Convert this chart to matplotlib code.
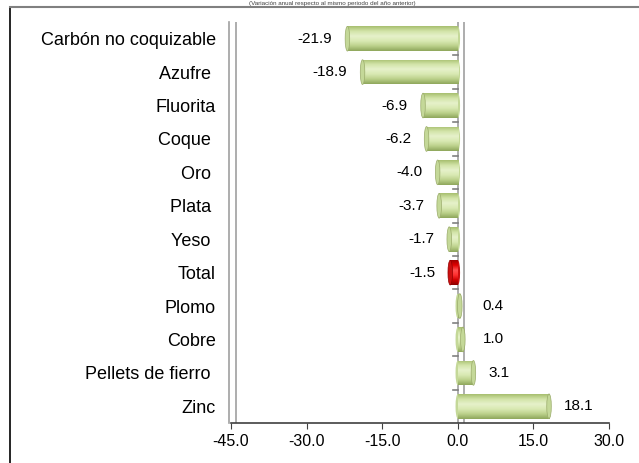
import numpy as np
import matplotlib
matplotlib.use("Agg")
import matplotlib.pyplot as plt
from matplotlib.colors import LinearSegmentedColormap
from matplotlib.patches import Ellipse

plt.rcParams['font.family'] = ['Liberation Sans', 'DejaVu Sans']

categories = ["Carbón no coquizable", "Azufre ", "Fluorita", "Coque ", "Oro ", "Plata ",
              "Yeso ", "Total", "Plomo", "Cobre", "Pellets de fierro ", "Zinc"]
values = [-21.9, -18.9, -6.9, -6.2, -4.0, -3.7, -1.7, -1.5, 0.4, 1.0, 3.1, 18.1]
highlight = "Total"
xticks = [-45.0, -30.0, -15.0, 0.0, 15.0, 30.0]
title = "(Variación anual respecto al mismo periodo del año anterior)"

W, H = 639, 463
fig = plt.figure(figsize=(W / 100, H / 100), dpi=100)
ax = fig.add_axes([231 / W, 1 - 423 / H, (609 - 231) / W, (423 - 22) / H])

green = LinearSegmentedColormap.from_list("g", ["#8fa75c", "#bcd18b", "#d9e9b3", "#e6f1ca", "#d2e4a8", "#a8bf70"])
red = LinearSegmentedColormap.from_list("r", ["#8a0000", "#d00000", "#ff3030", "#ff5050", "#e00000", "#a00000"])

n = len(categories)
ypos = np.arange(n)[::-1]
bh = 0.74
grad = np.linspace(0, 1, 64).reshape(-1, 1)

ax.set_xlim(-45, 30)
ax.set_ylim(-0.5, n - 0.5)

for y, v, c in zip(ypos, values, categories):
    cmap = red if c == highlight else green
    bars = ax.barh(y, v, height=bh, color="none", edgecolor="none", zorder=3)
    patch = bars[0]
    im = ax.imshow(grad, cmap=cmap, aspect="auto",
                   extent=[min(0, v), max(0, v), y + bh / 2, y - bh / 2],
                   zorder=3, interpolation="bilinear")
    im.set_clip_path(patch)
    endc = "#c4d898" if c != highlight else "#cc1010"
    ax.add_patch(Ellipse((v, y), width=0.9, height=bh, facecolor=endc,
                         edgecolor="#9aab6a" if c != highlight else "#900000",
                         linewidth=0.5, zorder=4))
    ax.add_patch(Ellipse((0, y), width=0.9, height=bh, facecolor=endc,
                         edgecolor="none", zorder=2.9))
    if v < 0:
        ax.text(v - 3.0, y, f"{v:.1f}", ha="right", va="center", fontsize=11, color="black", zorder=5)
    else:
        ax.text(max(v + 3.0, 4.9), y, f"{v:.1f}", ha="left", va="center", fontsize=11, color="black", zorder=5)

# back walls
ax.axvline(0, color="#a0a0a0", lw=1.2, zorder=2)
ax.axvline(1.2, color="#a0a0a0", lw=1.2, zorder=2)
ax.axvline(-45.4, color="#a0a0a0", lw=1.2, zorder=2, clip_on=False)
ax.axvline(-44.0, color="#a0a0a0", lw=1.2, zorder=2)
for yb in np.arange(n - 1) + 0.5:
    ax.plot([-0.9, 0], [yb, yb], color="#808080", lw=1.2, zorder=2)

ax.set_yticks(ypos)
ax.set_yticklabels(categories, fontsize=13)
ax.tick_params(axis="y", length=0, pad=11)
ax.set_xticks(xticks)
ax.set_xticklabels([f"{t:.1f}" for t in xticks], fontsize=11.5)
ax.tick_params(axis="x", length=4, color="#404040", pad=4)
for s in ["top", "right", "left"]:
    ax.spines[s].set_visible(False)
ax.spines["bottom"].set_color("#404040")
ax.spines["bottom"].set_linewidth(1.2)

# outer frame
fig.add_artist(plt.Line2D([10 / W, 10 / W], [0, 1 - 7 / H], color="black", lw=1.2))
fig.add_artist(plt.Line2D([10 / W, 1], [1 - 7 / H, 1 - 7 / H], color="#808080", lw=1.5))
fig.text(0.52, 1 - 0.5 / H, title, ha="center", va="top", fontsize=4.5, color="#404040")

fig.savefig("out.png", dpi=100)
